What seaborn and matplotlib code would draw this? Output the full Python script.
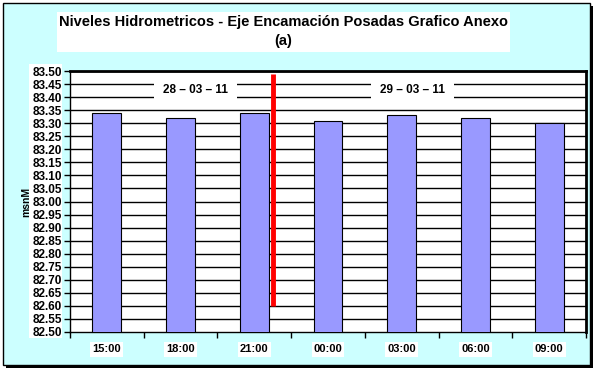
import seaborn as sns
import matplotlib.pyplot as plt
import pandas as pd
from matplotlib.patches import Rectangle

# datos
horas = ['15:00', '18:00', '21:00', '00:00', '03:00', '06:00', '09:00']
niveles = [83.34, 83.32, 83.34, 83.31, 83.33, 83.32, 83.30]
fechas = ['28 – 03 – 11', '29 – 03 – 11']
fecha_pos = [1.2, 4.15]
corte_x = 2.26
corte_y = [82.60, 83.49]

df = pd.DataFrame({'hora': horas, 'nivel': niveles})

sns.set_style('white')
plt.rcParams['font.family'] = ['Liberation Sans', 'DejaVu Sans']
plt.rcParams['text.color'] = 'black'
plt.rcParams['axes.labelcolor'] = 'black'
plt.rcParams['xtick.color'] = 'black'
plt.rcParams['ytick.color'] = 'black'

W, H = 595, 373
fig = plt.figure(figsize=(W / 100, H / 100), dpi=100)
fig.patch.set_facecolor('white')

def px_rect(x0, y0, x1, y1, **kw):
    # rectangulo en pixeles (origen arriba a la izquierda)
    fig.patches.append(Rectangle((x0 / W, 1 - y1 / H), (x1 - x0) / W, (y1 - y0) / H,
                                 transform=fig.transFigure, figure=fig, **kw))

# marco con sombra
px_rect(6, 6, 593, 368, facecolor='black', edgecolor='none', zorder=-3)
px_rect(3, 3, 590, 365, facecolor='#CCFFFF', edgecolor='black', linewidth=1, zorder=-2)
# caja blanca del titulo
px_rect(57, 12, 510, 52, facecolor='white', edgecolor='none', zorder=-1)
# caja blanca de las etiquetas del eje y
px_rect(29, 64, 62, 338, facecolor='white', edgecolor='none', zorder=-1)

fig.text(283.5 / W, 1 - 22 / H, 'Niveles Hidrometricos - Eje Encamación Posadas Grafico Anexo',
         ha='center', va='center', fontsize=10.5, fontweight='bold')
fig.text(283.5 / W, 1 - 41 / H, '(a)', ha='center', va='center', fontsize=10.5, fontweight='bold')

ax = fig.add_axes([70 / W, 41 / H, 516 / W, 261 / H])
ax.set_zorder(2)
ax.set_facecolor('white')

sns.barplot(data=df, x='hora', y='nivel', color='#9999FF', saturation=1,
            edgecolor='black', linewidth=0.8, width=0.39, ax=ax, zorder=3)

ax.set_ylim(82.50, 83.50)
ax.set_xlim(-0.5, len(horas) - 0.5)
yt = [round(82.50 + 0.05 * i, 2) for i in range(21)]
ax.set_yticks(yt)
ax.set_yticklabels([f'{v:.2f}' for v in yt], fontsize=8.5, fontweight='bold')
for v in yt[1:]:
    ax.axhline(v, color='black', linewidth=1, zorder=1)

ax.set_xticks(range(len(horas)))
ax.set_xticklabels(horas, fontsize=8, fontweight='bold')
for lbl in ax.get_xticklabels():
    lbl.set_bbox(dict(facecolor='white', edgecolor='none', pad=1.5))
ax.set_xticks([i + 0.5 for i in range(-1, len(horas))], minor=True)
ax.tick_params(axis='x', which='major', length=0, pad=9)
ax.tick_params(axis='x', which='minor', length=4, width=1, direction='out', bottom=True)
ax.tick_params(axis='y', length=4, width=1, direction='out', pad=2, left=True)

ax.set_xlabel('')
ax.set_ylabel('msnM', fontsize=7.5, fontweight='bold', labelpad=1)

for s in ['left', 'bottom']:
    ax.spines[s].set_color('black')
    ax.spines[s].set_linewidth(1)
for s in ['top', 'right']:
    ax.spines[s].set_color('black')
    ax.spines[s].set_linewidth(2)

# linea roja de cambio de dia
ax.plot([corte_x, corte_x], corte_y, color='#FF0000', linewidth=3.5, zorder=4, solid_capstyle='butt')

for txt, xp in zip(fechas, fecha_pos):
    ax.text(xp, 83.428, txt, ha='center', va='center', fontsize=8.5, fontweight='bold', zorder=5,
            bbox=dict(facecolor='white', edgecolor='none', boxstyle='square,pad=0.75'))

fig.savefig('out.png', dpi=100, facecolor=fig.get_facecolor())
